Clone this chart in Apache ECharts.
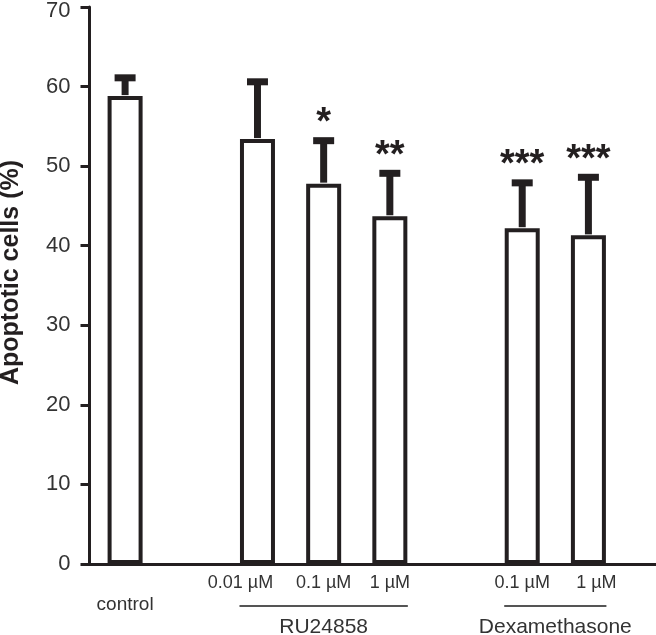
<!DOCTYPE html>
<html>
<head>
<meta charset="utf-8">
<script src="https://cdn.jsdelivr.net/npm/echarts@6/dist/echarts.min.js"></script>
<style>
html,body{margin:0;padding:0;background:#fff;}
#chart{width:656px;height:635px;}
</style>
</head>
<body>
<div id="chart"></div>
<script>
// ---- data ----
var categories = ['control', '', '0.01 µM', '0.1 µM', '1 µM', '', '0.1 µM', '1 µM'];
var means      = [58.8, null, 53.4, 47.8, 43.7, null, 42.2, 41.3];
var errors     = [2.3,  null, 7.2,  5.4,  5.4,  null, 5.7,  7.3];
var stars      = ['',   '',   '',   '*',  '**', '',   '***', '***'];
var groupNames = ['RU24858', 'Dexamethasone'];
var groupFrom  = [2, 6];
var groupTo    = [4, 7];
var yTicks     = [0, 10, 20, 30, 40, 50, 60, 70];

var INK = '#231f20';
var FONT = 'Liberation Sans, Arial, sans-serif';
var chart = echarts.init(document.getElementById('chart'));

// label styles per category (layout only)
var labelStyle = ['ctrl', 'n', 'left', 'n', 'n', 'n', 'n', 'right'];
var yMax = yTicks[yTicks.length - 1];

var errData = [];
means.forEach(function (m, i) {
  if (m != null) errData.push([i, m, errors[i]]);
});

var option = {
  animation: false,
  backgroundColor: '#fff',
  grid: [
    { left: 92, right: 34.5, top: 7, bottom: 71, containLabel: false, outerBoundsMode: 'none' },
    { left: 88, right: 0, top: 7, bottom: 71, containLabel: false, outerBoundsMode: 'none' }
  ],
  xAxis: [
    {
      type: 'category', gridIndex: 0, data: categories,
      axisLine: { show: false }, axisTick: { show: false },
      axisLabel: {
        interval: 0, margin: 10, color: '#333', fontSize: 18, fontFamily: FONT,
        formatter: function (v, i) { return v ? '{' + labelStyle[i] + '|' + v + '}' : ''; },
        rich: {
          n: { fontSize: 18, color: '#333', fontFamily: FONT },
          ctrl: { fontSize: 19, color: '#333', padding: [21, 0, 0, 0], fontFamily: FONT },
          left: { fontSize: 18, color: '#333', padding: [0, 34, 0, 0], fontFamily: FONT },
          right: { fontSize: 18, color: '#333', padding: [0, 0, 0, 16], fontFamily: FONT }
        }
      },
      splitLine: { show: false }
    },
    {
      type: 'value', gridIndex: 1, min: 0, max: 1,
      axisLine: { show: true, lineStyle: { color: INK, width: 3 } },
      axisTick: { show: false }, axisLabel: { show: false }, splitLine: { show: false }
    }
  ],
  yAxis: [
    {
      type: 'value', gridIndex: 0, min: yTicks[0], max: yMax, interval: 10,
      offset: 2.5,
      axisLine: { show: true, lineStyle: { color: INK, width: 3 } },
      axisTick: { show: true, length: 9, lineStyle: { color: INK, width: 3 } },
      axisLabel: {
        fontSize: 22, color: '#333', margin: 19, fontFamily: FONT,
        formatter: function (v) { return v === yMax ? '{top|' + v + '}' : '{n|' + v + '}'; },
        rich: {
          n: { fontSize: 22, color: '#333', fontFamily: FONT },
          top: { fontSize: 22, color: '#333', fontFamily: FONT, padding: [7, 0, 0, 0] }
        }
      },
      splitLine: { show: false },
      name: 'Apoptotic cells (%)', nameLocation: 'middle', nameGap: 66,
      nameTextStyle: { fontSize: 25, fontWeight: 'bold', color: INK, fontFamily: FONT, padding: [0, 0, 0, 26] }
    },
    {
      type: 'value', gridIndex: 1, min: 0, max: 1, show: false
    }
  ],
  series: [
    {
      type: 'bar', xAxisIndex: 0, yAxisIndex: 0,
      data: means,
      barWidth: 35,
      itemStyle: { color: '#fff', borderColor: INK, borderWidth: 4 },
      z: 2
    },
    {
      type: 'custom', xAxisIndex: 0, yAxisIndex: 0,
      data: errData,
      z: 3,
      renderItem: function (params, api) {
        var idx = api.value(0), m = api.value(1), e = api.value(2);
        var p0 = api.coord([idx, m]);
        var p1 = api.coord([idx, m + e]);
        var children = [
          { type: 'rect', shape: { x: p0[0] - 3.5, y: p1[1], width: 7, height: p0[1] - p1[1] - 1 }, style: { fill: INK } },
          { type: 'rect', shape: { x: p0[0] - 10.5, y: p1[1] - 3.5, width: 21, height: 7 }, style: { fill: INK } }
        ];
        var s = stars[idx];
        if (s) {
          children.push({
            type: 'text',
            style: {
              text: s, x: p0[0], y: p1[1] - 17,
              align: 'center', verticalAlign: 'middle',
              fill: INK, fontSize: 38, fontWeight: 'bold', fontFamily: FONT
            }
          });
        }
        return { type: 'group', children: children };
      }
    }
  ]
};
chart.setOption(option);

// group annotations (lines + names) positioned from the category scale
var base = chart.convertToPixel({ yAxisIndex: 0 }, 0);
var graphics = [];
groupNames.forEach(function (name, g) {
  var xa = chart.convertToPixel({ xAxisIndex: 0 }, groupFrom[g]) - 18;
  var xb = chart.convertToPixel({ xAxisIndex: 0 }, groupTo[g]) + 18;
  graphics.push({
    type: 'line', shape: { x1: xa, y1: base + 42, x2: xb, y2: base + 42 },
    style: { stroke: '#555', lineWidth: 2 }
  });
  graphics.push({
    type: 'text',
    style: {
      text: name, x: (xa + xb) / 2, y: base + 63, align: 'center', verticalAlign: 'middle',
      fill: '#333', fontSize: 21, fontFamily: FONT
    }
  });
});
chart.setOption({ graphic: graphics });
</script>
</body>
</html>
